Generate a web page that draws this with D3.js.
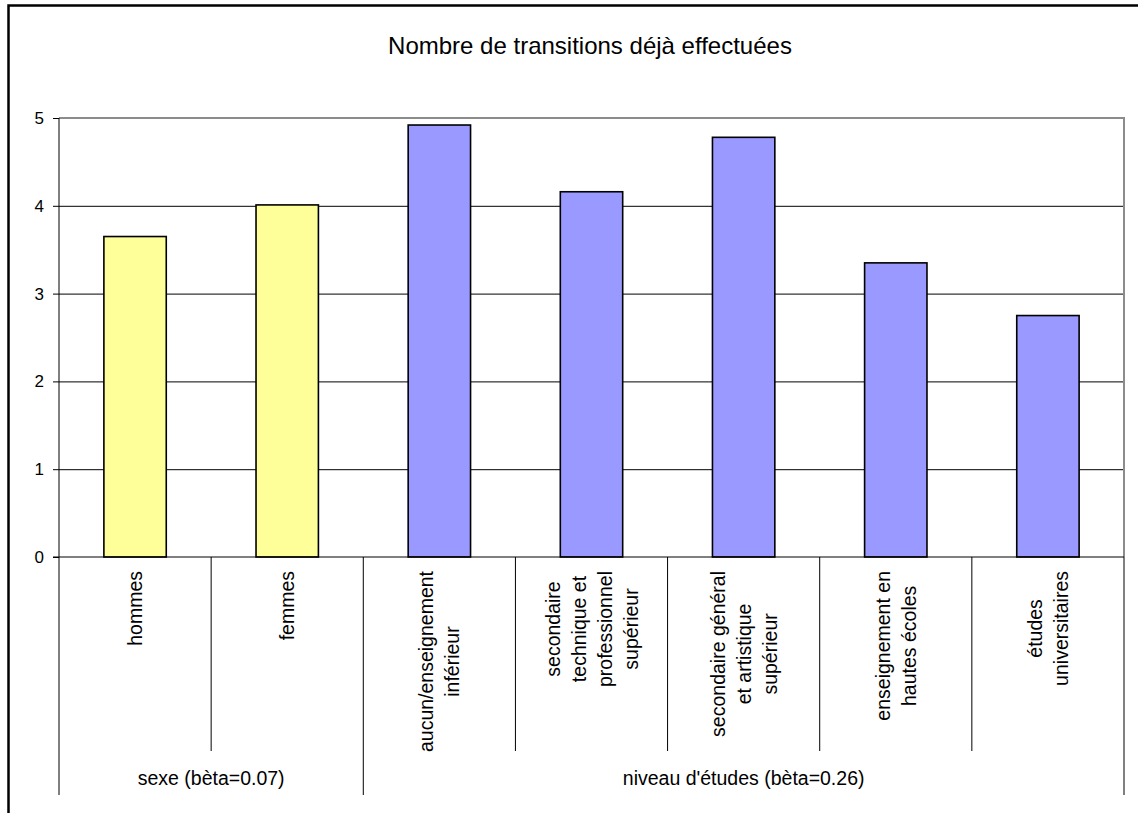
<!DOCTYPE html>
<html>
<head>
<meta charset="utf-8">
<script src="https://cdn.jsdelivr.net/npm/d3@7/dist/d3.min.js"></script>
<style>
  html, body { margin: 0; padding: 0; background: #ffffff; }
  svg { display: block; }
  text { font-family: "Liberation Sans", Arial, sans-serif; fill: #000; }
</style>
</head>
<body>
<svg id="chart" width="1138" height="813"></svg>
<script>
// Category labels, one inner array per category (one entry per text line)
const categoryLines = [
  ["hommes"],
  ["femmes"],
  ["aucun/enseignement", "inférieur"],
  ["secondaire", "technique et", "professionnel", "supérieur"],
  ["secondaire général", "et artistique", "supérieur"],
  ["enseignement en", "hautes écoles"],
  ["études", "universitaires"]
];
// Mean number of transitions already made
const values = [3.65, 4.01, 4.92, 4.16, 4.78, 3.35, 2.75];
// Which group each category belongs to (index into groupLabels)
const categoryGroup = [0, 0, 1, 1, 1, 1, 1];
const groupLabels = ["sexe (bèta=0.07)", "niveau d'études (bèta=0.26)"];
const groupColors = ["#FFFF99", "#9999FF"];
const yTicks = [0, 1, 2, 3, 4, 5];
const title = "Nombre de transitions déjà effectuées";

const svg = d3.select("#chart");

const plot = { left: 59, right: 1124, top: 118, bottom: 557 };
const innerSepBottom = 751;
const groupSepBottom = 795;

const x = d3.scaleBand()
  .domain(d3.range(categoryLines.length))
  .range([plot.left, plot.right])
  .paddingInner(0).paddingOuter(0);

const y = d3.scaleLinear()
  .domain([0, 5])
  .range([plot.bottom, plot.top]);

// Outer chart frame (left and top edges)
svg.append("path")
  .attr("d", `M8.5,820 L8.5,5.5 L1145,5.5`)
  .attr("fill", "none")
  .attr("stroke", "#000")
  .attr("stroke-width", 2.5);

// Title
svg.append("text")
  .attr("x", 590)
  .attr("y", 54)
  .attr("text-anchor", "middle")
  .style("font-size", "24px")
  .text(title);

// Horizontal gridlines
svg.append("g")
  .attr("transform", `translate(${plot.left},0)`)
  .call(d3.axisLeft(y).tickValues(yTicks.filter(d => d > 0 && d < 5))
    .tickSize(-(plot.right - plot.left)).tickFormat(""))
  .call(g => g.select(".domain").remove())
  .call(g => g.selectAll(".tick line").attr("stroke", "#000").attr("stroke-width", 1));

// Plot area border on top and right (grey)
svg.append("path")
  .attr("d", `M${plot.left},${plot.top} L${plot.right},${plot.top} L${plot.right},${plot.bottom}`)
  .attr("fill", "none")
  .attr("stroke", "#8c8c8c")
  .attr("stroke-width", 2);

// Bars
const barW = x.bandwidth() * 0.41;
svg.append("g")
  .selectAll("rect")
  .data(values)
  .join("rect")
  .attr("x", (d, i) => x(i) + (x.bandwidth() - barW) / 2)
  .attr("y", d => y(d))
  .attr("width", barW)
  .attr("height", d => y(0) - y(d))
  .attr("fill", (d, i) => groupColors[categoryGroup[i]])
  .attr("stroke", "#000")
  .attr("stroke-width", 1.6);

// Y axis
svg.append("g")
  .attr("transform", `translate(${plot.left},0)`)
  .call(d3.axisLeft(y).tickValues(yTicks).tickSize(6).tickPadding(9).tickFormat(d3.format("d")))
  .call(g => g.select(".domain").attr("stroke", "#000").attr("d", `M0,${plot.top}V${groupSepBottom}`))
  .call(g => g.selectAll(".tick line").attr("stroke", "#000"))
  .call(g => g.selectAll(".tick text")
    .style("font-size", "17px")
    .style("font-family", "'Liberation Sans', Arial, sans-serif")
    .attr("fill", "#000"));

// Category axis baseline
svg.append("line")
  .attr("x1", plot.left - 6).attr("x2", plot.right)
  .attr("y1", y(0)).attr("y2", y(0))
  .attr("stroke", "#000").attr("stroke-width", 1);

// Separators between categories (short) and between groups (long)
const boundaries = d3.range(1, categoryLines.length + 1);
svg.append("g")
  .selectAll("line")
  .data(boundaries)
  .join("line")
  .attr("x1", i => i < categoryLines.length ? x(i) : plot.right)
  .attr("x2", i => i < categoryLines.length ? x(i) : plot.right)
  .attr("y1", y(0))
  .attr("y2", i => (i === categoryLines.length || categoryGroup[i] !== categoryGroup[i - 1]) ? groupSepBottom : innerSepBottom)
  .attr("stroke", "#000")
  .attr("stroke-width", 1);

// Rotated, multi-line category labels
const lineH = 26;
const labelTop = 571;
categoryLines.forEach((lines, i) => {
  const cx = x(i) + x.bandwidth() / 2;
  const g = svg.append("g")
    .attr("transform", `translate(${cx},${labelTop}) rotate(-90)`);
  const texts = g.selectAll("text")
    .data(lines)
    .join("text")
    .attr("text-anchor", "middle")
    .attr("dominant-baseline", "central")
    .attr("y", (d, k) => (k - (lines.length - 1) / 2) * lineH)
    .style("font-size", "19.5px")
    .text(d => d);
  const w = d3.max(texts.nodes(), n => n.getComputedTextLength());
  texts.attr("x", -w / 2);
});

// Group labels
const groupExtent = groupLabels.map((lab, gi) => {
  const idx = d3.range(categoryLines.length).filter(i => categoryGroup[i] === gi);
  return [x(d3.min(idx)), x(d3.max(idx)) + x.bandwidth()];
});
svg.append("g")
  .selectAll("text")
  .data(groupLabels)
  .join("text")
  .attr("x", (d, gi) => (groupExtent[gi][0] + groupExtent[gi][1]) / 2)
  .attr("y", 785)
  .attr("text-anchor", "middle")
  .style("font-size", "19.5px")
  .text(d => d);
</script>
</body>
</html>
